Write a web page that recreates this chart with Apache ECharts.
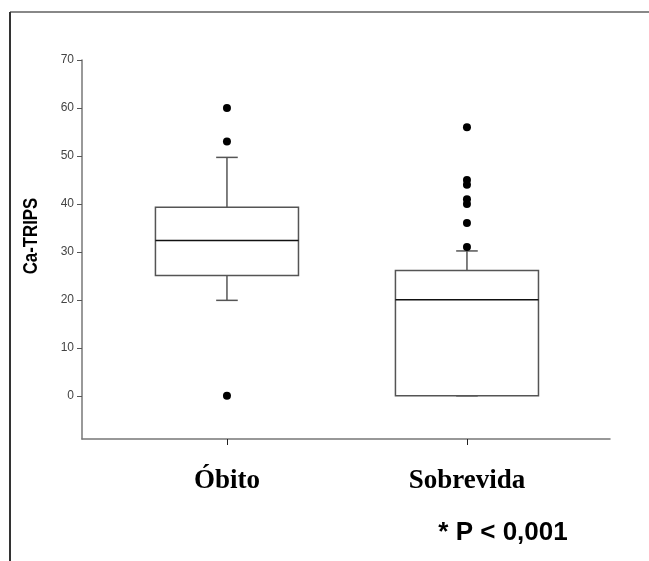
<!DOCTYPE html>
<html>
<head>
<meta charset="utf-8">
<script src="https://cdn.jsdelivr.net/npm/echarts@6/dist/echarts.min.js"></script>
<style>
  html, body { margin: 0; padding: 0; background: #fff; }
  #main { width: 649px; height: 561px; }
</style>
</head>
<body>
<div id="main"></div>
<script>
// categorias e valores
var categories = ['Óbito', 'Sobrevida'];
// [min whisker, Q1, mediana, Q3, max whisker]
var obitoBox = [19.9, 25.1, 32.4, 39.3, 49.7];
var sobrevidaBox = [0, 0, 20, 26.1, 30.2];
var obitoOutliers = [60, 53, 0];
var sobrevidaOutliers = [56, 45, 44, 41, 40, 36, 31];
var yTicks = [0, 10, 20, 30, 40, 50, 60, 70];

var boxData = [[0].concat(obitoBox), [1].concat(sobrevidaBox)];
var outlierData = [];
obitoOutliers.forEach(function (v) { outlierData.push([0, v]); });
sobrevidaOutliers.forEach(function (v) { outlierData.push([1, v]); });

var myChart = echarts.init(document.getElementById('main'));

function renderBox(params, api) {
    var x = api.value(0);
    var hw = 0.298, cw = 0.045;
    var lo = api.coord([x, api.value(1)]);
    var q1 = api.coord([x, api.value(2)]);
    var med = api.coord([x, api.value(3)]);
    var q3 = api.coord([x, api.value(4)]);
    var hi = api.coord([x, api.value(5)]);
    var l = api.coord([x - hw, 0])[0], r = api.coord([x + hw, 0])[0];
    var cl = api.coord([x - cw, 0])[0], cr = api.coord([x + cw, 0])[0];
    var gray = { stroke: '#555', lineWidth: 1.5, fill: null };
    return {
        type: 'group',
        children: [
            { type: 'line', shape: { x1: q3[0], y1: q3[1], x2: hi[0], y2: hi[1] }, style: gray },
            { type: 'line', shape: { x1: cl, y1: hi[1], x2: cr, y2: hi[1] }, style: gray },
            { type: 'line', shape: { x1: q1[0], y1: q1[1], x2: lo[0], y2: lo[1] }, style: gray },
            { type: 'line', shape: { x1: cl, y1: lo[1], x2: cr, y2: lo[1] }, style: gray },
            { type: 'rect', shape: { x: l, y: q3[1], width: r - l, height: q1[1] - q3[1] },
              style: { stroke: '#555', lineWidth: 1.5, fill: '#fff' } },
            { type: 'line', shape: { x1: l, y1: med[1], x2: r, y2: med[1] },
              style: { stroke: '#111', lineWidth: 1.5 } }
        ]
    };
}

myChart.setOption({
    animation: false,
    backgroundColor: '#fff',
    grid: { left: 82, right: 39, top: 60, bottom: 122 },
    xAxis: {
        type: 'value',
        min: -0.604,
        max: 1.596,
        splitLine: { show: false },
        axisLine: { onZero: false, lineStyle: { color: '#777', width: 1.5 } },
        axisTick: { customValues: [0, 1], length: 6, lineStyle: { color: '#222' } },
        axisLabel: {
            customValues: [0, 1],
            formatter: function (v) { return categories[Math.round(v)]; },
            margin: 29,
            fontFamily: 'Liberation Serif',
            fontWeight: 'bold',
            fontSize: 27,
            color: '#000'
        }
    },
    yAxis: {
        type: 'value',
        min: -9,
        max: 70,
        splitLine: { show: false },
        axisLine: { show: true, onZero: false, lineStyle: { color: '#777', width: 1.5 } },
        axisTick: { show: true, customValues: yTicks, length: 5, lineStyle: { color: '#555' } },
        axisLabel: {
            customValues: yTicks,
            margin: 8,
            fontFamily: 'Liberation Sans',
            fontSize: 12,
            color: '#444'
        }
    },
    series: [
        {
            type: 'custom',
            renderItem: renderBox,
            encode: { x: 0, y: [1, 2, 3, 4, 5] },
            data: boxData,
            z: 2
        },
        {
            type: 'scatter',
            symbolSize: 8,
            itemStyle: { color: '#000', opacity: 1 },
            data: outlierData,
            z: 3
        }
    ],
    graphic: [
        { type: 'line', shape: { x1: 10, y1: 12, x2: 649, y2: 12 }, style: { stroke: '#888', lineWidth: 2 } },
        { type: 'line', shape: { x1: 10, y1: 12, x2: 10, y2: 561 }, style: { stroke: '#333', lineWidth: 2 } },
        {
            type: 'text', x: 31, y: 236, rotation: Math.PI / 2, scaleX: 0.8,
            style: { text: 'Ca-TRIPS', fontFamily: 'Liberation Sans', fontWeight: 'bold', fontSize: 21,
                     fill: '#000', textAlign: 'center', textVerticalAlign: 'middle' }
        },
        {
            type: 'text', x: 503, y: 533,
            style: { text: '* P < 0,001', fontFamily: 'Liberation Sans', fontWeight: 'bold', fontSize: 26,
                     fill: '#000', textAlign: 'center', textVerticalAlign: 'middle' }
        }
    ]
});
</script>
</body>
</html>
